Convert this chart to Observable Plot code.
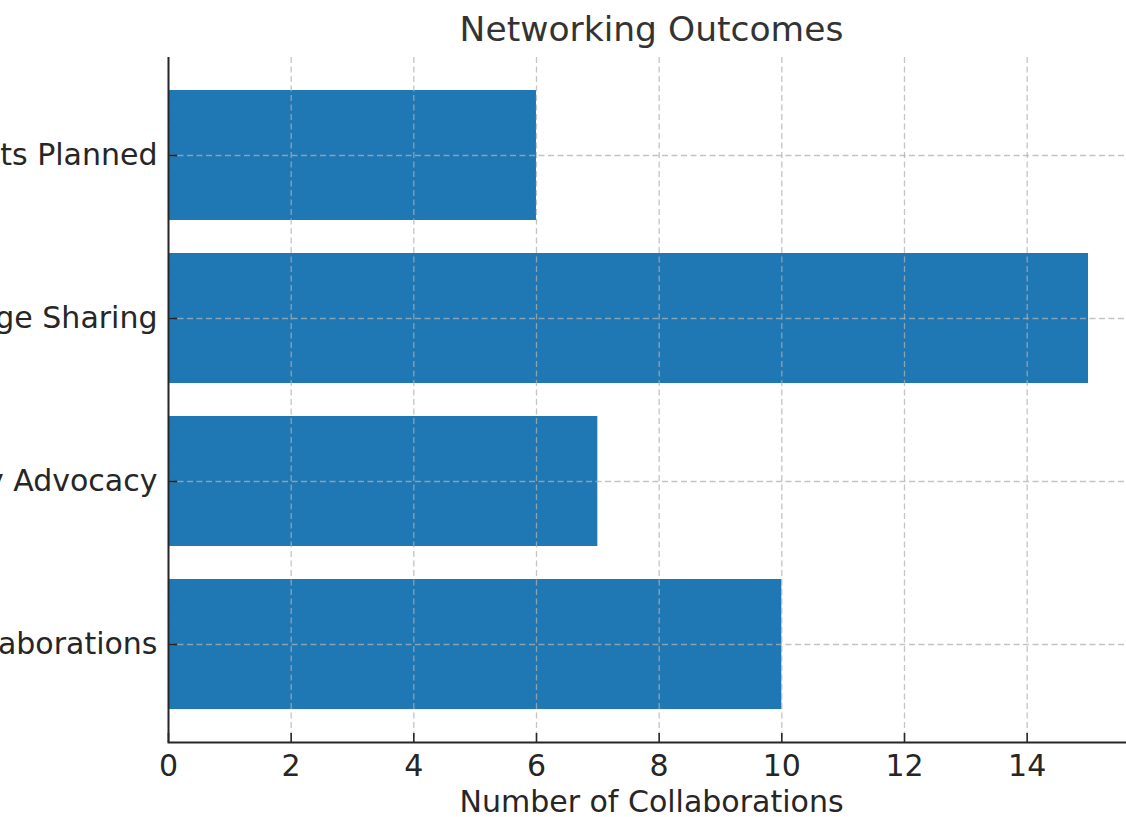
<!DOCTYPE html>
<html>
<head>
<meta charset="utf-8">
<script src="https://cdn.jsdelivr.net/npm/d3@7"></script>
<script src="https://cdn.jsdelivr.net/npm/@observablehq/plot@0.6"></script>
<style>
  html, body { margin: 0; padding: 0; background: #fff; overflow: hidden; }
  #chart svg { overflow: visible; display: block; max-width: none !important; }
</style>
</head>
<body>
<div id="chart"></div>
<script>
const categories = ["Events Planned", "Knowledge Sharing", "Policy Advocacy", "New Collaborations"];
const values = [6, 15, 7, 10];
const xTicks = [0, 2, 4, 6, 8, 10, 12, 14];
const titleText = "Networking Outcomes";
const xLabel = "Number of Collaborations";

const data = categories.map((c, i) => ({category: c, value: values[i]}));
const ink = "#262626";
const gridStyle = {stroke: "#b0b0b0", strokeOpacity: 0.75, strokeWidth: 1.3, strokeDasharray: "6,3.5"};

const chart = Plot.plot({
  width: 1134,
  height: 817,
  marginLeft: 168,
  marginRight: 0,
  marginTop: 57,
  marginBottom: 75,
  style: {fontFamily: "DejaVu Sans", color: ink, background: "white"},
  x: {domain: [0, 15.75]},
  y: {domain: categories, paddingInner: 0.2, paddingOuter: 0.19},
  marks: [
    Plot.barX(data, {x: "value", y: "category", fill: "#1f77b4"}),
    Plot.gridX(xTicks, {...gridStyle}),
    Plot.gridY(categories, {...gridStyle}),
    // inward tick marks
    Plot.axisX(xTicks, {tickSize: 9, dy: -9, tickFormat: () => "", stroke: ink, strokeWidth: 1.6, label: null}),
    Plot.axisY(categories, {tickSize: 9, dx: 9, tickFormat: () => "", stroke: ink, strokeWidth: 1.6, label: null}),
    // tick labels
    Plot.axisX(xTicks, {tickSize: 0, tickPadding: 12, fontSize: 30, fill: ink, label: null}),
    Plot.axisY(categories, {tickSize: 0, tickPadding: 11, fontSize: 30, fill: ink, label: null}),
    // spines
    Plot.ruleX([0], {stroke: ink, strokeWidth: 2}),
    Plot.frame({anchor: "bottom", stroke: ink, strokeWidth: 2}),
    Plot.text([titleText], {text: d => d, frameAnchor: "top", lineAnchor: "middle", dy: -28, fontSize: 34.5, fill: "#333333"}),
    Plot.text([xLabel], {text: d => d, frameAnchor: "bottom", lineAnchor: "middle", dy: 60, fontSize: 30, fill: ink})
  ]
});
document.getElementById("chart").appendChild(chart);
</script>
</body>
</html>
